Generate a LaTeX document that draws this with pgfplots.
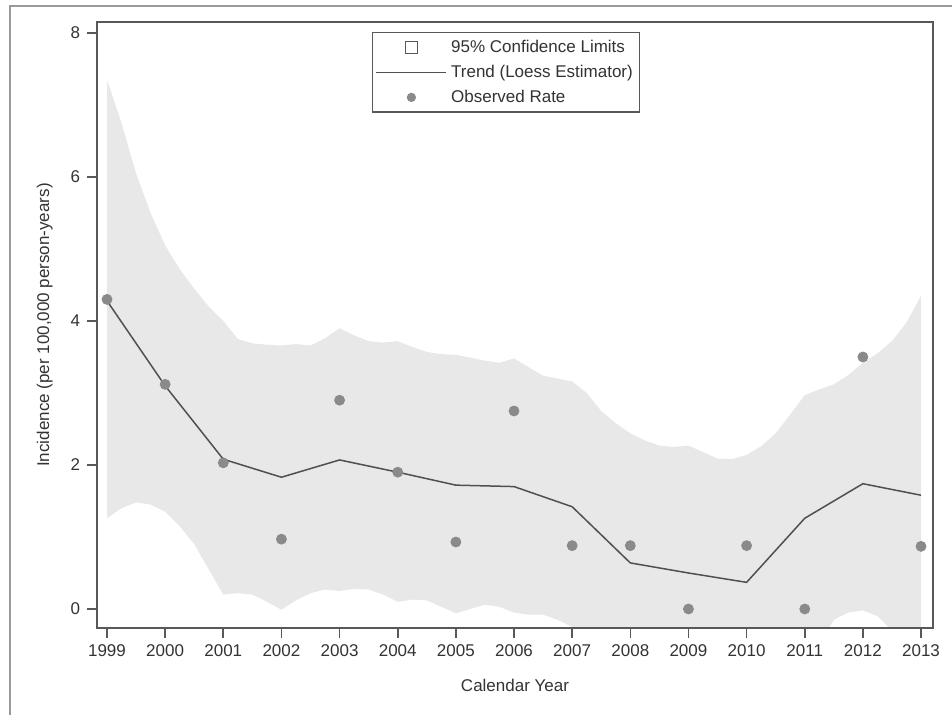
\documentclass[border=0pt]{standalone}
\usepackage{pgfplots}
\pgfplotsset{compat=1.18}
\usepackage{fontspec}
\setmainfont{Liberation Sans}
\definecolor{bandgray}{HTML}{E8E8E8}
\definecolor{linegray}{HTML}{505050}
\definecolor{dotgray}{HTML}{8A8A8A}
\definecolor{axgray}{HTML}{585858}
\definecolor{txtgray}{HTML}{333333}
\begin{document}
\begin{tikzpicture}
\path[use as bounding box] (0pt,0pt) rectangle (476pt,357.5pt);
\draw[gray!80, line width=0.8pt] (5pt,0pt) -- (5pt,354.5pt) -- (476pt,354.5pt);
\begin{axis}[
  at={(48.5pt,43.5pt)}, anchor=south west,
  scale only axis, width=418pt, height=303pt,
  xmin=1998.828, xmax=2013.206,
  ymin=-0.264, ymax=8.153,
  xtick={1999,2000,...,2013},
  ytick={0,2,4,6,8},
  xticklabel style={/pgf/number format/1000 sep={}},
  /pgf/number format/assume math mode=true,
  tick align=outside, major tick length=5pt,
  xtick pos=bottom, ytick pos=left,
  axis line style={axgray, line width=0.8pt},
  tick style={axgray, line width=0.8pt},
  every tick label/.append style={font=\fontsize{8.5}{10}\selectfont, text=txtgray},
  xlabel={Calendar Year}, ylabel={Incidence (per 100,000 person-years)},
  label style={font=\fontsize{8.5}{10}\selectfont, text=txtgray},
  xlabel style={yshift=-4pt},
  ylabel style={yshift=2pt},
  legend style={at={(0.329,0.983)}, anchor=north west, draw=axgray, line width=0.6pt,
    font=\fontsize{8.5}{10}\selectfont, text=txtgray, inner xsep=1.5pt, inner ysep=1.5pt,
    row sep=0.8pt, cells={anchor=west}},
  legend cell align=left,
]
\addplot[fill=bandgray, draw=none,
  legend image code/.code={\draw[axgray, line width=0.6pt, fill=white] (14.5pt,-2.8pt) rectangle (20.5pt,3.2pt);}]
coordinates {
(1999,7.35) (1999.25,6.75) (1999.5,6.05) (1999.75,5.5) (2000,5.05) (2000.25,4.72)
(2000.5,4.45) (2000.75,4.2) (2001,4.0) (2001.25,3.75) (2001.5,3.69) (2001.75,3.67)
(2002,3.66) (2002.25,3.68) (2002.5,3.66) (2002.75,3.76) (2003,3.9) (2003.25,3.8)
(2003.5,3.72) (2003.75,3.7) (2004,3.72) (2004.25,3.64) (2004.5,3.57) (2004.75,3.54)
(2005,3.53) (2005.25,3.49) (2005.5,3.45) (2005.75,3.42) (2006,3.48) (2006.25,3.36)
(2006.5,3.24) (2006.75,3.2) (2007,3.16) (2007.25,3.0) (2007.5,2.75) (2007.75,2.58)
(2008,2.44) (2008.25,2.34) (2008.5,2.27) (2008.75,2.25) (2009,2.27) (2009.25,2.18)
(2009.5,2.09) (2009.75,2.08) (2010,2.14) (2010.25,2.26) (2010.5,2.44) (2010.75,2.7)
(2011,2.97) (2011.25,3.05) (2011.5,3.12) (2011.75,3.25) (2012,3.42) (2012.25,3.55)
(2012.5,3.72) (2012.75,3.98) (2013,4.35)
(2013,-0.7) (2012.75,-0.5) (2012.5,-0.3) (2012.25,-0.1) (2012,-0.02) (2011.75,-0.05)
(2011.5,-0.15) (2011.25,-0.5) (2011,-0.6) (2010.5,-0.6) (2010,-0.6) (2009.5,-0.6)
(2009,-0.6) (2008.5,-0.6) (2008,-0.6) (2007.5,-0.6) (2007.25,-0.4) (2007,-0.25)
(2006.75,-0.15) (2006.5,-0.08) (2006.25,-0.08) (2006,-0.05) (2005.75,0.03) (2005.5,0.06)
(2005.25,0.0) (2005,-0.06) (2004.75,0.03) (2004.5,0.12) (2004.25,0.13) (2004,0.1)
(2003.75,0.2) (2003.5,0.27) (2003.25,0.28) (2003,0.25) (2002.75,0.27) (2002.5,0.22)
(2002.25,0.12) (2002,-0.01) (2001.75,0.1) (2001.5,0.2) (2001.25,0.22) (2001,0.2)
(2000.75,0.55) (2000.5,0.9) (2000.25,1.15) (2000,1.35) (1999.75,1.45) (1999.5,1.48)
(1999.25,1.4) (1999,1.26)
};
\addlegendentry{95\% Confidence Limits}
\addplot[linegray, line width=0.75pt, mark=none,
  legend image code/.code={\draw[linegray, line width=0.75pt] (0pt,0pt) -- (35pt,0pt);}]
coordinates {
(1999,4.28) (2000,3.1) (2001,2.08) (2002,1.83) (2003,2.07) (2004,1.9) (2005,1.72)
(2006,1.7) (2007,1.42) (2008,0.64) (2009,0.5) (2010,0.37) (2011,1.26) (2012,1.74) (2013,1.58)
};
\addlegendentry{Trend (Loess Estimator)}
\addplot[only marks, mark=*, mark size=2.5pt, dotgray, mark options={draw=dotgray, fill=dotgray},
  legend image code/.code={\fill[dotgray] (17.5pt,0pt) circle (2pt);}]
coordinates {
(1999,4.3) (2000,3.12) (2001,2.03) (2002,0.97) (2003,2.9) (2004,1.9) (2005,0.93)
(2006,2.75) (2007,0.88) (2008,0.88) (2009,0.0) (2010,0.88) (2011,0.0) (2012,3.5) (2013,0.87)
};
\addlegendentry{Observed Rate}
\end{axis}
\draw[axgray, line width=0.9pt] (48.5pt,43.5pt) rectangle (466.5pt,346.5pt);
\end{tikzpicture}
\end{document}
